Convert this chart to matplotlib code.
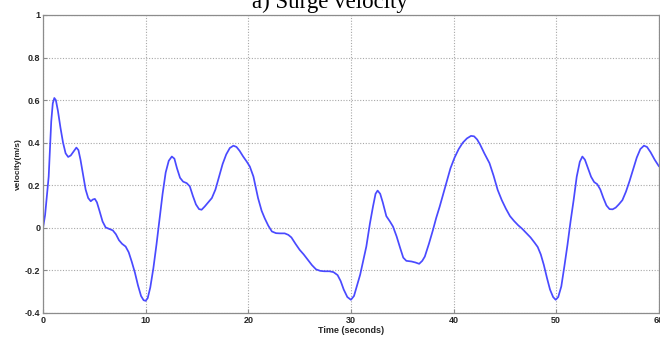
import numpy as np
import matplotlib.pyplot as plt

# surge velocity samples (time in s, velocity in m/s)
time_s = [0.0, 0.2, 0.4, 0.55, 0.8, 0.95, 1.1, 1.25, 1.45, 1.7, 1.95, 2.2,
          2.45, 2.7, 3.0, 3.25, 3.45, 3.65, 3.9, 4.15, 4.4, 4.65, 4.85, 5.05,
          5.25, 5.5, 5.8, 6.1, 6.45, 6.8, 7.1, 7.4, 7.7, 8.05, 8.35, 8.65,
          8.95, 9.25, 9.55, 9.8, 10.0, 10.2, 10.45, 10.75, 11.05, 11.35, 11.65,
          11.95, 12.25, 12.55, 12.8, 13.05, 13.35, 13.65, 14.0, 14.3, 14.6,
          14.9, 15.2, 15.45, 15.75, 16.1, 16.45, 16.8, 17.15, 17.5, 17.85,
          18.2, 18.55, 18.85, 19.15, 19.5, 19.85, 20.15, 20.5, 20.95, 21.3,
          21.6, 21.95, 22.3, 22.7, 23.1, 23.55, 23.9, 24.2, 24.6, 25.0, 25.4,
          25.8, 26.2, 26.6, 27.0, 27.4, 27.9, 28.3, 28.7, 29.0, 29.3, 29.65,
          30.0, 30.3, 30.6, 30.9, 31.2, 31.5, 31.85, 32.15, 32.4, 32.6, 32.85,
          33.1, 33.45, 33.8, 34.1, 34.45, 34.8, 35.1, 35.4, 35.9, 36.3, 36.65,
          36.95, 37.2, 37.6, 38.0, 38.3, 38.65, 39.0, 39.35, 39.7, 40.1, 40.5,
          40.9, 41.3, 41.7, 42.0, 42.3, 42.6, 43.0, 43.5, 43.9, 44.3, 44.7,
          45.1, 45.5, 45.9, 46.3, 46.7, 47.1, 47.5, 47.9, 48.2, 48.5, 48.8,
          49.1, 49.4, 49.7, 49.95, 50.2, 50.5, 50.8, 51.1, 51.4, 51.7, 52.0,
          52.3, 52.55, 52.8, 53.1, 53.4, 53.7, 54.0, 54.3, 54.6, 54.9, 55.2,
          55.5, 55.8, 56.1, 56.45, 56.8, 57.15, 57.5, 57.85, 58.2, 58.55,
          58.85, 59.2, 59.6, 60.0]
velocity = [0.0, 0.06, 0.16, 0.24, 0.50, 0.585, 0.61, 0.60, 0.55, 0.47, 0.40,
            0.35, 0.333, 0.34, 0.36, 0.377, 0.365, 0.32, 0.25, 0.18, 0.14,
            0.125, 0.133, 0.136, 0.12, 0.08, 0.03, 0.002, -0.005, -0.012,
            -0.03, -0.058, -0.075, -0.088, -0.115, -0.16, -0.21, -0.27, -0.32,
            -0.34, -0.343, -0.33, -0.28, -0.19, -0.08, 0.04, 0.16, 0.26, 0.315,
            0.335, 0.325, 0.28, 0.235, 0.217, 0.21, 0.195, 0.15, 0.11, 0.088,
            0.085, 0.10, 0.12, 0.14, 0.18, 0.24, 0.30, 0.345, 0.375, 0.386,
            0.38, 0.362, 0.335, 0.311, 0.288, 0.241, 0.14, 0.08, 0.045, 0.01,
            -0.017, -0.025, -0.026, -0.026, -0.033, -0.045, -0.075, -0.103,
            -0.125, -0.15, -0.175, -0.195, -0.202, -0.204, -0.204, -0.208,
            -0.222, -0.25, -0.29, -0.325, -0.338, -0.32, -0.27, -0.22, -0.155,
            -0.088, 0.02, 0.10, 0.16, 0.175, 0.16, 0.12, 0.055, 0.03, 0.006,
            -0.04, -0.095, -0.14, -0.155, -0.158, -0.163, -0.169, -0.155,
            -0.135, -0.075, -0.009, 0.045, 0.10, 0.16, 0.22, 0.28, 0.33, 0.37,
            0.40, 0.42, 0.432, 0.43, 0.415, 0.39, 0.35, 0.304, 0.245, 0.178,
            0.13, 0.09, 0.055, 0.032, 0.012, -0.005, -0.025, -0.045, -0.07,
            -0.09, -0.125, -0.175, -0.235, -0.29, -0.325, -0.338, -0.325,
            -0.275, -0.18, -0.08, 0.03, 0.13, 0.24, 0.31, 0.335, 0.32, 0.28,
            0.24, 0.215, 0.205, 0.18, 0.14, 0.105, 0.088, 0.087, 0.095, 0.11,
            0.13, 0.17, 0.22, 0.275, 0.33, 0.37, 0.386, 0.38, 0.355, 0.32,
            0.29]

x_ticks = [0, 10, 20, 30, 40, 50, 60]
y_ticks = [-0.4, -0.2, 0, 0.2, 0.4, 0.6, 0.8, 1]
y_tick_labels = ["-0.4", "-0.2", "0", "0.2", "0.4", "0.6", "0.8", "1"]


def makeplot():
    fig = plt.figure(figsize=(6.6, 3.38), dpi=100)
    ax = fig.add_axes([0.0652, 0.074, 0.933, 0.8817])

    ax.plot(time_s, velocity, color="#4a4aff", linewidth=1.25)

    ax.set_xlim(0, 60)
    ax.set_ylim(-0.4, 1)
    ax.set_xticks(x_ticks)
    ax.set_yticks(y_ticks)
    ax.set_yticklabels(y_tick_labels)

    ax.grid(True, color="#a8a8a8", linestyle=(0, (1, 1.5)), linewidth=0.8)
    for s in ax.spines.values():
        s.set_color("#8c8c8c")
        s.set_linewidth(0.9)
    ax.tick_params(direction="in", length=3, color="#8c8c8c", pad=2,
                   labelsize=6.5, labelcolor="#262626")
    for lab in ax.get_xticklabels() + ax.get_yticklabels():
        lab.set_fontfamily("Liberation Sans")
        lab.set_fontweight("bold")

    ax.set_xlabel("Time (seconds)", fontsize=6.5, fontweight="bold",
                  family="Liberation Sans", color="#262626", labelpad=1)
    ax.set_ylabel("velocity(m/s)", fontsize=6, fontweight="bold",
                  family="Liberation Sans", color="#262626", labelpad=2)

    fig.text(0.5, 0.976, "a) Surge velocity", ha="center", va="baseline",
             fontsize=16.5, family="Liberation Serif")

    fig.savefig("out.png", dpi=100)


if __name__ == "__main__":
    makeplot()
